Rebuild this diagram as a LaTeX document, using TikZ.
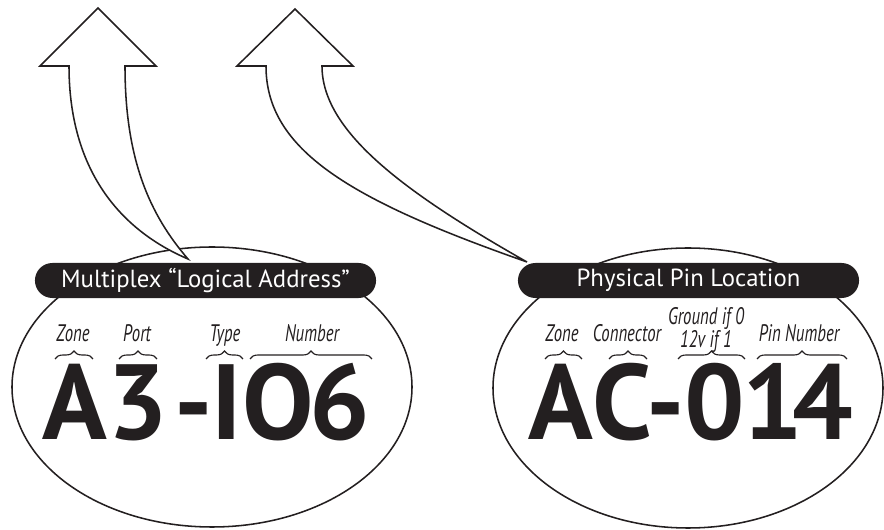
\documentclass[tikz,border=0pt]{standalone}
\usepackage{fontspec}
\setmainfont{PT Sans}
\usepackage{graphicx}
\usetikzlibrary{decorations.pathreplacing}
\definecolor{ink}{HTML}{231F20}
\newcommand{\cond}[1]{\scalebox{0.7}[1]{#1}}

\begin{document}
\begin{tikzpicture}[x=0.025cm,y=-0.025cm,
  pill/.style={fill=ink,text=white,rounded corners=4.35mm,minimum width=8.525cm,
    minimum height=0.875cm,inner sep=0pt,font=\fontsize{17.6}{19}\selectfont},
  field/.style={anchor=base,text=ink,inner sep=0pt,font=\fontsize{17}{15}\selectfont\itshape},
  glyph/.style={anchor=base,text=ink,inner sep=0pt,font=\fontsize{76}{80}\selectfont\bfseries},
  brc/.style={decorate,decoration={brace,amplitude=2mm},line width=0.8pt,ink},
  arrowline/.style={line width=1.1pt,draw=ink,fill=white}]
\useasboundingbox (0,0) rectangle (884,530);

% the two ovals
\draw[line width=1.1pt,ink] (212,387) ellipse [x radius=200,y radius=140];
\draw[line width=1.1pt,ink] (688,388) ellipse [x radius=195,y radius=140];

% bent arrows
\draw[arrowline] (69,66) -- (40,66) -- (98,8) -- (156,66) -- (125,66)
  .. controls (125,160) and (150,215) .. (188,259)
  .. controls (120,230) and (69,170) .. (69,66) -- cycle;
\draw[arrowline] (266,66) -- (237,66) -- (295,9) -- (353,66) -- (322,66)
  .. controls (322,130) and (400,190) .. (527,262)
  .. controls (350,200) and (266,150) .. (266,66) -- cycle;

% titles
\node[pill] (mux) at (205.5,280.5) {Multiplex “Logical Address”};
\node[pill] (pin) at (688.5,280.5) {Physical Pin Location};

% logical address
\foreach \ch/\x [count=\i] in {A/75,3/138,-/194,I/227,O/278,6/340}
  \node[glyph] (addr\i) at (\x,440) {\ch};
\node[field] (zoneA) at (73,342) {\cond{Zone}};
\node[field] (port) at (137,342) {\cond{Port}};
\node[field] (type) at (225,342) {\cond{Type}};
\node[field] (numA) at (312,342) {\cond{Number}};
\draw[brc] (55,359) -- (93,359);
\draw[brc] (119,359) -- (157,359);
\draw[brc] (206,359) -- (243,359);
\draw[brc] (250,359) -- (372,359);

% physical pin
\foreach \ch/\x [count=\i] in {A/561,C/622,-/666,0/715,1/773,4/823}
  \node[glyph] (loc\i) at (\x,440) {\ch};
\node[field] (zoneB) at (562,342) {\cond{Zone}};
\node[field] (conn) at (627,342) {\cond{Connector}};
\node[field] (gnd) at (706,348)
  {\cond{\begin{tabular}[b]{@{}c@{}}Ground if 0\\12v if 1\end{tabular}}};
\node[field] (numB) at (799,342) {\cond{Pin Number}};
\draw[brc] (545,359) -- (582,359);
\draw[brc] (609,359) -- (647,359);
\draw[brc] (678,359) -- (745,359);
\draw[brc] (757,359) -- (847,359);
\end{tikzpicture}
\end{document}
